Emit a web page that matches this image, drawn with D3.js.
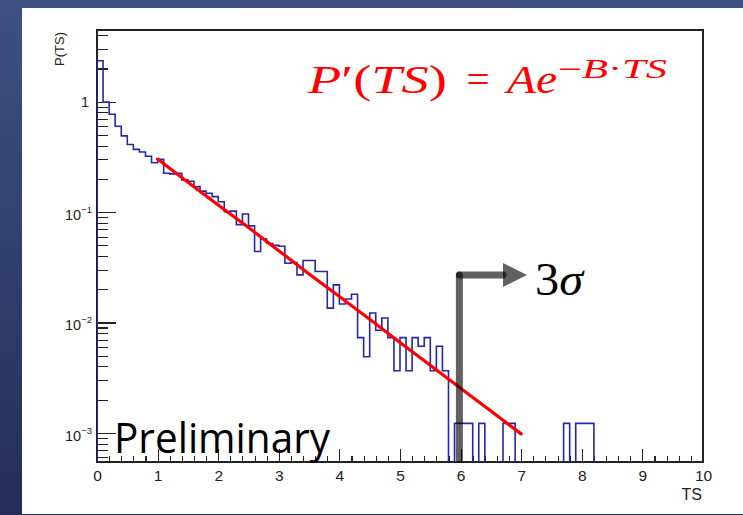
<!DOCTYPE html>
<html>
<head>
<meta charset="utf-8">
<script src="https://cdn.jsdelivr.net/npm/d3@7"></script>
<style>
  body { margin: 0; background: #fff; }
  svg { display: block; }
  .axis path, .axis line { stroke: #222; stroke-width: 1.1; fill: none; shape-rendering: crispEdges; }
  .axis text { font-family: "Liberation Sans", Arial, sans-serif; font-size: 15.5px; fill: #222; }
</style>
</head>
<body>
<div id="chart"></div>
<script>
// histogram contents, bins of 0.1 in TS from 0 to 10
const binLow = d3.range(0, 100).map(i => i / 10);
const binValue = [
  2.35, 0.99, 0.77, 0.60, 0.49, 0.41, 0.37, 0.35, 0.32, 0.28,
  0.30, 0.225, 0.222, 0.225, 0.196, 0.19, 0.17, 0.155, 0.148, 0.138,
  0.124, 0.101, 0.102, 0.077, 0.096, 0.075, 0.044, 0.057, 0.052, 0.050,
  0.049, 0.0344, 0.035, 0.027, 0.0364, 0.0364, 0.029, 0.029, 0.0135, 0.0219,
  0.0147, 0.0163, 0.018, 0.0073, 0.0049, 0.0122, 0.0085, 0.011, 0.0073, 0.00366,
  0.0073, 0.00366, 0.0073, 0.0061, 0.0073, 0.00366, 0.0061, 0.00366, 0, 0.00122,
  0.00122, 0.00122, 0, 0.00122, 0, 0, 0, 0.00122, 0.00122, 0,
  0, 0, 0, 0, 0, 0, 0, 0.00122, 0, 0.00122,
  0.00122, 0.00122, 0, 0, 0, 0, 0, 0, 0, 0,
  0, 0, 0, 0, 0, 0, 0, 0, 0, 0
];
// red fit curve
const fitTS = [1, 1.5, 2, 2.5, 3, 3.5, 4, 4.5, 5, 5.5, 6, 6.5, 7];
const fitP = [0.302, 0.186, 0.116, 0.0724, 0.0447, 0.0275, 0.0172, 0.0107, 0.0066, 0.0041, 0.00254, 0.00158, 0.00098];

const xTicks = [0, 1, 2, 3, 4, 5, 6, 7, 8, 9, 10];
const yTicks = [1e-3, 1e-2, 1e-1, 1];
const yTickExp = ["-3", "-2", "-1", ""];

const W = 743, H = 515;
const frame = {left: 97, right: 703, top: 30, bottom: 462};

const svg = d3.select("#chart").append("svg").attr("width", W).attr("height", H);
const defs = svg.append("defs");
const grad = defs.append("linearGradient").attr("id", "bg").attr("x1", 0).attr("y1", 0).attr("x2", 0).attr("y2", 1);
grad.append("stop").attr("offset", "0%").attr("stop-color", "#3d5182");
grad.append("stop").attr("offset", "100%").attr("stop-color", "#252d59");
defs.append("clipPath").attr("id", "plot").append("rect")
  .attr("x", frame.left).attr("y", frame.top)
  .attr("width", frame.right - frame.left).attr("height", frame.bottom - frame.top);

svg.append("rect").attr("width", W).attr("height", H).attr("fill", "url(#bg)");
svg.append("rect").attr("x", 22).attr("y", 8).attr("width", W - 22).attr("height", 506).attr("fill", "#fff");

let x = d3.scaleLinear().domain([0, 10]).range([frame.left, frame.right]);
let y = d3.scaleLog().domain([5.45e-4, 4.46]).range([frame.bottom, frame.top]);

// frame
svg.append("rect")
  .attr("x", frame.left).attr("y", frame.top)
  .attr("width", frame.right - frame.left).attr("height", frame.bottom - frame.top)
  .attr("fill", "none").attr("stroke", "#222").attr("stroke-width", 1.1)
  .style("shape-rendering", "crispEdges");

// x axis, ticks pointing inward
let xMinor = d3.range(0, 50).map(i => i / 5).filter(v => v % 1 !== 0);
svg.append("g").attr("class", "axis")
  .attr("transform", "translate(0," + frame.bottom + ")")
  .call(d3.axisBottom(x).tickValues(xMinor).tickSize(-6).tickFormat(""));
let xAxisNode = svg.append("g").attr("class", "axis")
  .attr("transform", "translate(0," + frame.bottom + ")")
  .call(d3.axisBottom(x).tickValues(xTicks).tickSize(-13).tickPadding(8).tickFormat(d3.format("d")));
xAxisNode.select(".domain").remove();

// y axis (log)
let yMinor = [];
[1e-4, 1e-3, 1e-2, 1e-1, 1].forEach(dec => {
  for (let k = 2; k <= 9; k++) {
    let v = dec * k;
    if (v > y.domain()[0] && v < y.domain()[1]) yMinor.push(v);
  }
});
svg.append("g").attr("class", "axis")
  .attr("transform", "translate(" + frame.left + ",0)")
  .call(d3.axisLeft(y).tickValues(yMinor).tickSize(-11).tickFormat(""));
let yAxisNode = svg.append("g").attr("class", "axis")
  .attr("transform", "translate(" + frame.left + ",0)")
  .call(d3.axisLeft(y).tickValues(yTicks).tickSize(-19).tickFormat(""));
yAxisNode.select(".domain").remove();

// y tick labels with superscripts
yTicks.forEach((v, i) => {
  let t = svg.append("text")
    .attr("font-family", "Liberation Sans, Arial, sans-serif")
    .attr("fill", "#222")
    .attr("text-anchor", "end");
  if (yTickExp[i] === "") {
    t.attr("x", 89).attr("y", y(v) + 5).attr("font-size", 14.5).text("1");
  } else {
    t.attr("x", 92).attr("y", y(v) + 8).attr("font-size", 14.5);
    t.append("tspan").text("10");
    t.append("tspan").attr("font-size", 9.5).attr("dy", -7).text("\u2212" + yTickExp[i].slice(1));
  }
});

// axis titles
svg.append("text")
  .attr("x", frame.right - 1).attr("y", 500)
  .attr("text-anchor", "end")
  .attr("font-family", "Liberation Sans, Arial, sans-serif").attr("font-size", 16).attr("fill", "#222")
  .text("TS");
svg.append("text")
  .attr("transform", "translate(64,32) rotate(-90)")
  .attr("text-anchor", "end")
  .attr("font-family", "Liberation Sans, Arial, sans-serif").attr("font-size", 13).attr("fill", "#222")
  .text("P(TS)");

// histogram outline
let plot = svg.append("g").attr("clip-path", "url(#plot)");
let yZero = frame.bottom + 3;
let histPts = [[x(binLow[0]), yZero]];
binValue.forEach((v, i) => {
  let yy = v > 0 ? y(v) : yZero;
  histPts.push([x(binLow[i]), yy]);
  histPts.push([x(binLow[i] + 0.1), yy]);
});
histPts.push([x(10), yZero]);
plot.append("path")
  .attr("d", d3.line()(histPts))
  .attr("fill", "none")
  .attr("stroke", "#2626aa")
  .attr("stroke-width", 1.6);

// fit
plot.append("path")
  .datum(fitTS.map((t, i) => [t, fitP[i]]))
  .attr("d", d3.line().x(d => x(d[0])).y(d => y(d[1])))
  .attr("fill", "none")
  .attr("stroke", "#ff0000")
  .attr("stroke-width", 3.2)
  .attr("stroke-linecap", "round");

// 3 sigma arrow
let arrowX = x(5.98);
let arrowY = 275;
svg.append("line")
  .attr("x1", arrowX).attr("y1", frame.bottom - 3).attr("x2", arrowX).attr("y2", arrowY)
  .attr("stroke", "#000").attr("stroke-opacity", 0.62).attr("stroke-width", 7).attr("stroke-linecap", "round");
svg.append("line")
  .attr("x1", arrowX).attr("y1", arrowY).attr("x2", 503).attr("y2", arrowY)
  .attr("stroke", "#000").attr("stroke-opacity", 0.62).attr("stroke-width", 7).attr("stroke-linecap", "round");
svg.append("path")
  .attr("d", "M503,263 L527,275 L503,287 Z")
  .attr("fill", "#000").attr("fill-opacity", 0.62);

let serif = "Liberation Serif, DejaVu Serif, serif";
let sig = svg.append("text")
  .attr("x", 535).attr("y", 295)
  .attr("font-family", serif).attr("font-size", 46).attr("fill", "#000")
  .attr("textLength", 48).attr("lengthAdjust", "spacingAndGlyphs");
sig.append("tspan").text("3");
sig.append("tspan").attr("font-style", "italic").text("\u03c3");

// formula
let f1 = svg.append("text")
  .attr("x", 308).attr("y", 93)
  .attr("font-family", serif).attr("font-size", 41).attr("fill", "#ff0000")
  .attr("textLength", 139).attr("lengthAdjust", "spacingAndGlyphs");
f1.append("tspan").attr("font-style", "italic").text("P");
f1.append("tspan").text("\u2032(");
f1.append("tspan").attr("font-style", "italic").text("TS");
f1.append("tspan").text(")");
svg.append("text")
  .attr("x", 478).attr("y", 93).attr("text-anchor", "middle")
  .attr("font-family", serif).attr("font-size", 41).attr("fill", "#ff0000")
  .text("=");
svg.append("text")
  .attr("x", 507).attr("y", 93)
  .attr("font-family", serif).attr("font-size", 41).attr("font-style", "italic").attr("fill", "#ff0000")
  .attr("textLength", 50).attr("lengthAdjust", "spacingAndGlyphs")
  .text("Ae");
let f3 = svg.append("text")
  .attr("x", 558).attr("y", 78)
  .attr("font-family", serif).attr("font-size", 27).attr("fill", "#ff0000")
  .attr("textLength", 109).attr("lengthAdjust", "spacingAndGlyphs");
f3.append("tspan").text("\u2212");
f3.append("tspan").attr("font-style", "italic").text("B");
f3.append("tspan").text("\u00b7");
f3.append("tspan").attr("font-style", "italic").text("TS");

// watermark
svg.append("text")
  .attr("x", 114).attr("y", 453)
  .attr("font-family", "Open Sans, Lato, sans-serif").attr("font-size", 42).attr("fill", "#000")
  .attr("textLength", 216).attr("lengthAdjust", "spacingAndGlyphs")
  .text("Preliminary");
</script>
</body>
</html>
